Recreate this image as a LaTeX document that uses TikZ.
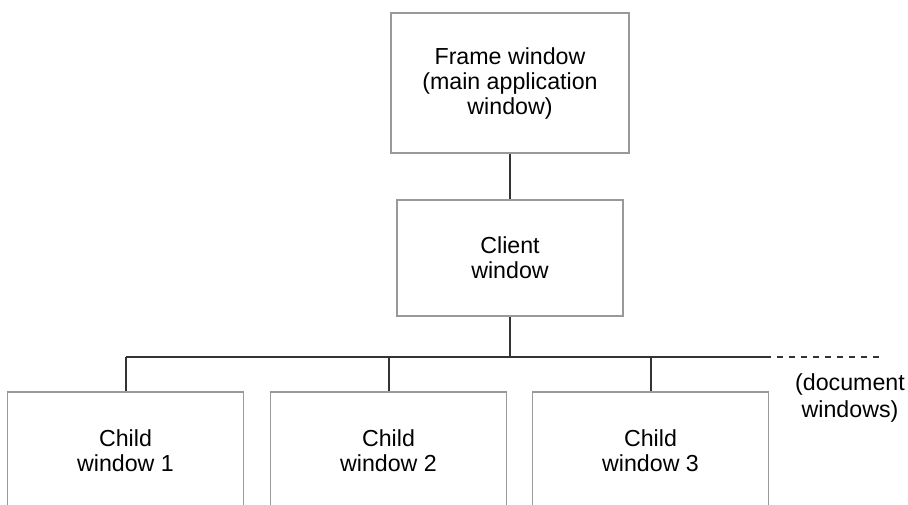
\documentclass[tikz,border=0pt]{standalone}
\usepackage{fontspec}
\setmainfont{Liberation Sans}
\begin{document}
\begin{tikzpicture}[x=0.5pt, y=-0.5pt,
				winbox/.style={draw=black!40, line width=0.8pt, rectangle, align=center,
					font=\fontsize{11.6}{12.5}\selectfont, inner sep=0pt},
				link/.style={draw=black!80, line width=1pt},
				label/.style={align=center, font=\fontsize{11.6}{13.5}\selectfont, inner sep=0pt}]
				\useasboundingbox (0,0) rectangle (908,504);
				\node[winbox, minimum width=119pt, minimum height=70pt] (frame) at (510,83)
					{Frame window\\(main application\\window)};
				\node[winbox, minimum width=113pt, minimum height=58pt] (client) at (510,258)
					{Client\\window};
				\node[winbox, minimum width=118pt, minimum height=59pt] (child1) at (125.5,451)
					{Child\\window 1};
				\node[winbox, minimum width=118pt, minimum height=59pt] (child2) at (388.5,451)
					{Child\\window 2};
				\node[winbox, minimum width=118pt, minimum height=59pt] (child3) at (650.5,451)
					{Child\\window 3};
				\node[label] (docs) at (850,398) {(document\\windows)};
				% bus to the child windows
				\coordinate (busL) at (child1.north |- 0,357);
				\coordinate (busR) at (765,357);
				\coordinate (busEnd) at (884,357);
				\draw[link] (frame.south) -- (client.north);
				\draw[link] (client.south) -- (client.south |- busL);
				\draw[link] (busL) -- (busR);
				\draw[link, dashed] (busR) -- (busEnd);
				\draw[link] (child1.north) -- (busL);
				\draw[link] (child2.north) -- (child2.north |- busL);
				\draw[link] (child3.north) -- (child3.north |- busL);
			\end{tikzpicture}
\end{document}
